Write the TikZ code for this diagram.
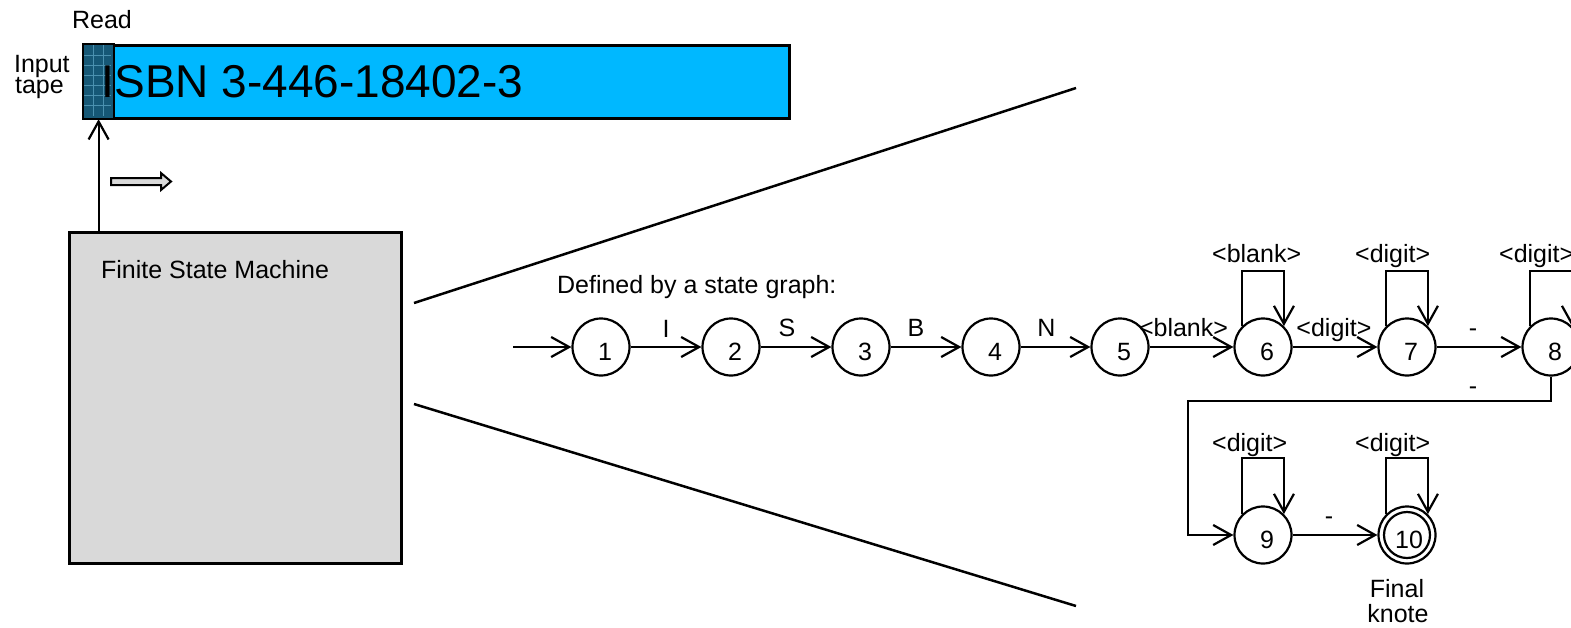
\documentclass[tikz,border=0pt]{standalone}
\usepackage{fontspec}
\setmainfont{Liberation Sans}
\usetikzlibrary{arrows.meta}
\definecolor{tapecyan}{RGB}{0,184,255}
\definecolor{cellblue}{RGB}{22,88,118}
\definecolor{gridblue}{RGB}{75,145,175}
\definecolor{boxgray}{RGB}{217,217,217}
\begin{document}
\begin{tikzpicture}[x=1pt,y=-1pt,
  line width=2.2pt,
  arr/.style={-{Straight Barb[length=18pt,width=20pt]}},
  state/.style={circle,draw,minimum size=57pt,inner sep=0pt},
  txt/.style={font=\fontsize{25}{28}\selectfont,inner sep=0pt},
  lbl/.style={txt,anchor=base},
  numlbl/.style={txt,xshift=4pt,yshift=-5pt},
]
\useasboundingbox (0,0) rectangle (1571,627);
\clip (0,0) rectangle (1571,627);

% tape
\node[draw,fill=tapecyan,line width=2.5pt,minimum width=705pt,minimum height=73pt,inner sep=0pt,anchor=north west] (tape) at (83,44) {};
\node[fill=cellblue,minimum width=29pt,minimum height=73pt,inner sep=0pt,anchor=north west] (cell) at (83,44) {};
\foreach \gx in {93,103} \draw[gridblue,line width=0.8pt] (\gx,45) -- (\gx,116);
\foreach \gy in {55,65,75,85,95,105} \draw[gridblue,line width=0.8pt] (84,\gy) -- (111,\gy);
\draw[line width=2.5pt] (cell.north west) rectangle (cell.south east);
\node[inner sep=0pt,anchor=base west,font=\fontsize{46}{50}\selectfont] (isbn) at (100.5,97) {ISBN 3-446-18402-3};

\node[txt,anchor=base west] (read) at (71,28) {Read};
\node[txt,anchor=base west] (input) at (13,72) {Input};
\node[txt,anchor=base west] (tapelbl) at (14,93) {tape};

% FSM
\node[draw,fill=boxgray,line width=2.5pt,minimum width=332pt,minimum height=331pt,inner sep=0pt,anchor=north west] (fsm) at (68,231) {};
\node[txt,anchor=base west] (fsmlbl) at (100,278) {Finite State Machine};
\draw[arr] (fsm.north -| cell.south) -- (cell.south);

% hollow move arrow
\draw[line width=2pt,fill=boxgray,line join=miter] (111,178) -- (161,178) -- (161,173) -- (171,181.5) -- (161,190) -- (161,185) -- (111,185) -- cycle;

% fan lines
\coordinate (f1) at (414,303);
\coordinate (f2) at (1076,88);
\coordinate (f3) at (414,404);
\coordinate (f4) at (1076,606);
\draw[line width=2.5pt] (f1) -- (f2);
\draw[line width=2.5pt] (f3) -- (f4);

\node[txt,anchor=base west] (defined) at (556,293) {Defined by a state graph:};

% states
\node[state,label={[numlbl]center:1}] (s1) at (601,347) {};
\node[state,label={[numlbl]center:2}] (s2) at (731,347) {};
\node[state,label={[numlbl]center:3}] (s3) at (861,347) {};
\node[state,label={[numlbl]center:4}] (s4) at (991,347) {};
\node[state,label={[numlbl]center:5}] (s5) at (1120,347) {};
\node[state,label={[numlbl]center:6}] (s6) at (1263,347) {};
\node[state,label={[numlbl]center:7}] (s7) at (1407,347) {};
\node[state,label={[numlbl]center:8}] (s8) at (1551,347) {};
\node[state,label={[numlbl]center:9}] (s9) at (1263,535) {};
\node[state,label={[txt,xshift=2pt,yshift=-5pt]center:10}] (s10) at (1407,535) {};
\node[circle,draw,minimum size=46pt,inner sep=0pt] (s10in) at (s10.center) {};

\coordinate (start) at (513,347);
\draw[arr] (start) -- (s1);
\draw[arr] (s1) -- node[lbl,midway,yshift=10pt] {I} (s2);
\draw[arr] (s2) -- node[lbl,midway,xshift=-9pt,yshift=11pt] {S} (s3);
\draw[arr] (s3) -- node[lbl,midway,xshift=-10pt,yshift=11pt] {B} (s4);
\draw[arr] (s4) -- node[lbl,midway,xshift=-9pt,yshift=11pt] {N} (s5);
\draw[arr] (s5) -- node[lbl,midway,xshift=-8pt,yshift=11pt] {<blank>} (s6);
\draw[arr] (s6) -- node[lbl,midway,xshift=-1pt,yshift=11pt] {<digit>} (s7);
\draw[arr] (s7) -- node[lbl,midway,xshift=-6pt,yshift=11pt] {-} (s8);
\draw[arr] (s9) -- node[lbl,midway,xshift=-6pt,yshift=11pt] {-} (s10);

% 8 -> 9
\coordinate (bend) at (1188,401);
\draw[arr] (s8.south) |- (bend) |- (s9.west);
\node[lbl] (dash89) at (1473,394) {-};

% self loops
\draw[arr] (s6.135) -- ++(0,-55) coordinate (t6) -| (s6.45);
\node[txt,anchor=base west] at ([shift={(-31,-9)}]t6) {<blank>};
\draw[arr] (s7.135) -- ++(0,-55) coordinate (t7) -| (s7.45);
\node[txt,anchor=base west] at ([shift={(-32,-9)}]t7) {<digit>};
\draw[arr] (s8.135) -- ++(0,-55) coordinate (t8) -| (s8.45);
\node[txt,anchor=base west] at ([shift={(-32,-9)}]t8) {<digit>};
\draw[arr] (s9.135) -- ++(0,-56) coordinate (t9) -| (s9.45);
\node[txt,anchor=base west] at ([shift={(-31,-7)}]t9) {<digit>};
\draw[arr] (s10.135) -- ++(0,-56) coordinate (t10) -| (s10.45);
\node[txt,anchor=base west] at ([shift={(-32,-7)}]t10) {<digit>};

\node[lbl] (final) at (1397,597) {Final};
\node[lbl] (knote) at (1398,622) {knote};
\end{tikzpicture}
\end{document}
